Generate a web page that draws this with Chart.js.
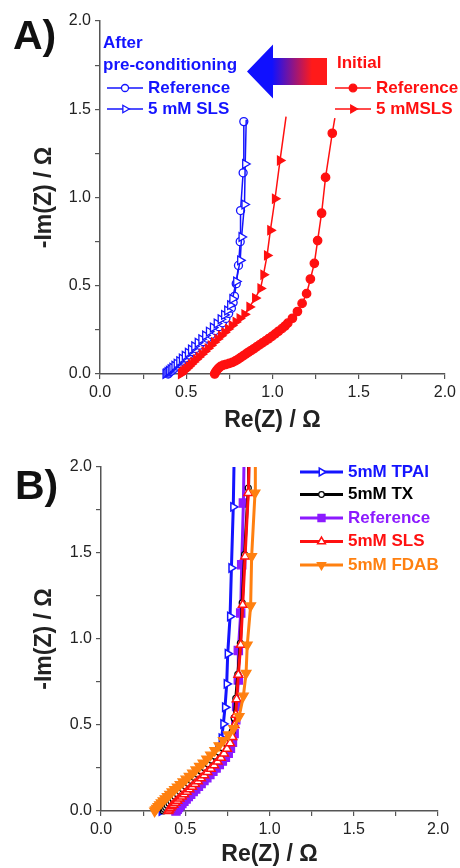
<!DOCTYPE html>
<html>
<head>
<meta charset="utf-8">
<script src="https://cdn.jsdelivr.net/npm/chart.js@4.4.1/dist/chart.umd.min.js"></script>
<style>
    html, body { margin: 0; padding: 0; background: #fff; }
    #wrap { position: relative; width: 460px; height: 868px; overflow: hidden; }
    canvas { position: absolute; left: 0; }
    #chartA { top: 0; }
    #chartB { top: 434px; }
</style>
</head>
<body>
<div id="wrap">
    <canvas id="chartA" width="460" height="434"></canvas>
    <canvas id="chartB" width="460" height="434"></canvas>
</div>
<script>
const FONT = 'Arial, "Liberation Sans", sans-serif';
const AXIS = '#555';

// labelled ticks on both axes, minor ticks every 0.25
const majorTicks = [0.0, 0.5, 1.0, 1.5, 2.0];

// ---- panel A : Re(Z), -Im(Z) in ohm ----
const aAfterRefRe = [0.395, 0.40, 0.41, 0.42, 0.432, 0.445, 0.46, 0.477, 0.495, 0.515, 0.535, 0.555, 0.577, 0.6, 0.622, 0.645, 0.668, 0.69, 0.71, 0.73, 0.746, 0.762, 0.772, 0.78, 0.79, 0.803, 0.813, 0.815, 0.83, 0.834];
const aAfterRefIm = [0, 0.006, 0.014, 0.022, 0.033, 0.045, 0.058, 0.073, 0.09, 0.108, 0.126, 0.144, 0.163, 0.183, 0.203, 0.224, 0.246, 0.268, 0.29, 0.315, 0.343, 0.373, 0.405, 0.44, 0.512, 0.615, 0.75, 0.926, 1.14, 1.43];

const aAfterSlsRe = [0.38, 0.385, 0.392, 0.40, 0.41, 0.42, 0.432, 0.445, 0.46, 0.475, 0.492, 0.51, 0.528, 0.547, 0.567, 0.588, 0.61, 0.632, 0.655, 0.677, 0.70, 0.72, 0.738, 0.755, 0.768, 0.79, 0.813, 0.821, 0.838, 0.842, 0.848];
const aAfterSlsIm = [0, 0.005, 0.011, 0.018, 0.027, 0.036, 0.047, 0.059, 0.073, 0.088, 0.104, 0.121, 0.139, 0.157, 0.177, 0.197, 0.218, 0.24, 0.263, 0.286, 0.31, 0.335, 0.36, 0.39, 0.425, 0.524, 0.644, 0.776, 0.96, 1.19, 1.44];

const aInitRefRe = [0.665, 0.67, 0.678, 0.688, 0.70, 0.715, 0.732, 0.75, 0.768, 0.785, 0.80, 0.815, 0.83, 0.845, 0.86, 0.876, 0.892, 0.908, 0.925, 0.942, 0.96, 0.978, 0.997, 1.016, 1.035, 1.055, 1.073, 1.089, 1.116, 1.145, 1.172, 1.198, 1.22, 1.243, 1.262, 1.285, 1.308, 1.347, 1.362];
const aInitRefIm = [0, 0.01, 0.022, 0.033, 0.043, 0.05, 0.055, 0.06, 0.066, 0.074, 0.083, 0.093, 0.103, 0.113, 0.123, 0.133, 0.143, 0.154, 0.165, 0.176, 0.188, 0.2, 0.213, 0.227, 0.242, 0.257, 0.272, 0.288, 0.316, 0.354, 0.40, 0.455, 0.538, 0.627, 0.756, 0.911, 1.114, 1.364, 1.45];

const aInitSlsRe = [0.47, 0.475, 0.483, 0.492, 0.503, 0.515, 0.528, 0.542, 0.557, 0.573, 0.59, 0.607, 0.625, 0.643, 0.662, 0.682, 0.702, 0.722, 0.743, 0.765, 0.787, 0.81, 0.838, 0.867, 0.9, 0.931, 0.948, 0.969, 0.988, 1.015, 1.044, 1.079];
const aInitSlsIm = [0, 0.006, 0.014, 0.022, 0.032, 0.043, 0.055, 0.068, 0.082, 0.097, 0.112, 0.128, 0.145, 0.162, 0.18, 0.198, 0.217, 0.236, 0.255, 0.275, 0.295, 0.315, 0.338, 0.38, 0.43, 0.485, 0.5625, 0.672, 0.814, 0.993, 1.21, 1.458];

// ---- panel B ----
const bTpaiRe = [0.36, 0.37, 0.382, 0.395, 0.409, 0.424, 0.44, 0.457, 0.475, 0.494, 0.513, 0.533, 0.553, 0.574, 0.595, 0.617, 0.638, 0.66, 0.68, 0.696, 0.716, 0.726, 0.736, 0.746, 0.752, 0.766, 0.774, 0.785, 0.79];
const bTpaiIm = [0, 0.012, 0.025, 0.039, 0.053, 0.068, 0.083, 0.099, 0.115, 0.132, 0.15, 0.168, 0.187, 0.207, 0.228, 0.25, 0.273, 0.297, 0.322, 0.365, 0.423, 0.506, 0.603, 0.739, 0.914, 1.131, 1.413, 1.768, 2.05];

const bTxRe = [0.37, 0.376, 0.384, 0.393, 0.403, 0.414, 0.426, 0.439, 0.453, 0.468, 0.484, 0.5, 0.517, 0.535, 0.553, 0.572, 0.592, 0.612, 0.633, 0.654, 0.676, 0.698, 0.72, 0.742, 0.762, 0.778, 0.79, 0.8, 0.812, 0.827, 0.838, 0.852, 0.874, 0.876];
const bTxIm = [0, 0.01, 0.021, 0.033, 0.045, 0.058, 0.071, 0.085, 0.099, 0.114, 0.129, 0.145, 0.161, 0.178, 0.196, 0.214, 0.233, 0.253, 0.274, 0.296, 0.319, 0.343, 0.368, 0.395, 0.425, 0.46, 0.54, 0.655, 0.795, 0.975, 1.21, 1.49, 1.878, 2.05];

const bRefRe = [0.445, 0.452, 0.46, 0.47, 0.48, 0.492, 0.505, 0.518, 0.532, 0.547, 0.562, 0.578, 0.594, 0.611, 0.628, 0.646, 0.664, 0.683, 0.702, 0.72, 0.738, 0.755, 0.768, 0.78, 0.79, 0.8, 0.805, 0.815, 0.815, 0.829, 0.835, 0.845, 0.849];
const bRefIm = [0, 0.01, 0.02, 0.032, 0.044, 0.057, 0.07, 0.084, 0.098, 0.113, 0.128, 0.144, 0.16, 0.177, 0.194, 0.212, 0.231, 0.25, 0.27, 0.29, 0.312, 0.336, 0.365, 0.40, 0.45, 0.53, 0.607, 0.762, 0.933, 1.151, 1.432, 1.79, 2.05];

const bSlsRe = [0.40, 0.405, 0.412, 0.42, 0.43, 0.441, 0.453, 0.466, 0.48, 0.494, 0.509, 0.525, 0.541, 0.558, 0.576, 0.594, 0.613, 0.632, 0.652, 0.672, 0.692, 0.712, 0.73, 0.748, 0.766, 0.78, 0.793, 0.8, 0.805, 0.815, 0.829, 0.841, 0.855, 0.874, 0.88];
const bSlsIm = [0, 0.008, 0.018, 0.027, 0.037, 0.048, 0.06, 0.072, 0.085, 0.098, 0.112, 0.126, 0.141, 0.157, 0.173, 0.19, 0.208, 0.227, 0.246, 0.266, 0.288, 0.31, 0.335, 0.362, 0.394, 0.43, 0.5, 0.56, 0.65, 0.792, 0.966, 1.199, 1.48, 1.849, 2.05];

const bFdabRe = [0.318, 0.323, 0.33, 0.338, 0.347, 0.357, 0.368, 0.38, 0.393, 0.407, 0.421, 0.436, 0.452, 0.469, 0.486, 0.504, 0.523, 0.543, 0.563, 0.584, 0.605, 0.627, 0.65, 0.675, 0.7, 0.726, 0.756, 0.787, 0.82, 0.845, 0.861, 0.868, 0.888, 0.894, 0.914, 0.916];
const bFdabIm = [0, 0.008, 0.017, 0.027, 0.037, 0.048, 0.06, 0.072, 0.085, 0.098, 0.112, 0.126, 0.14, 0.155, 0.17, 0.186, 0.203, 0.221, 0.24, 0.26, 0.28, 0.302, 0.326, 0.352, 0.38, 0.41, 0.443, 0.48, 0.55, 0.669, 0.801, 0.966, 1.193, 1.48, 1.849, 2.05];

function series(label, re, im, o) {
    return {
        label: label,
        data: re.map((x, i) => ({ x: x, y: im[i] })),
        showLine: true,
        borderColor: o.color,
        borderWidth: o.lw,
        pointStyle: o.style,
        rotation: o.rot || 0,
        pointRadius: o.hideLast ? (c => c.dataIndex === re.length - 1 ? 0 : o.r) : o.r,
        legendR: o.lr || o.r,
        pointBackgroundColor: o.fill,
        pointBorderColor: o.color,
        pointBorderWidth: o.pbw || 1.3,
        order: o.order || 0,
        clip: { left: false, right: false, top: 0, bottom: false },
    };
}

function tickCb(v) {
    return majorTicks.some(m => Math.abs(m - v) < 1e-6) ? v.toFixed(1) : '';
}

function axis(title, isX, size) {
    return {
        type: 'linear',
        min: 0,
        max: 2,
        border: { display: true, color: AXIS, width: 1.5 },
        grid: { display: true, drawOnChartArea: false, drawTicks: true, tickLength: 5, color: AXIS, lineWidth: 1.2 },
        ticks: {
            stepSize: 0.25, autoSkip: false, maxRotation: 0, padding: 4,
            color: '#222', font: { family: FONT, size: 16 },
            callback: tickCb,
        },
        title: {
            display: true,
            text: title,
            color: '#222',
            font: { family: FONT, size: 23, weight: 'bold' },
            padding: isX ? { top: 0, bottom: 0 } : { top: 31, bottom: 0 },
        },
        afterFit: s => { if (isX) s.height = size; else s.width = size; },
    };
}

function drawArrow(ctx, a) {
    const g = ctx.createLinearGradient(a.g0, 0, a.g1, 0);
    g.addColorStop(0, '#1010ff');
    g.addColorStop(1, '#ff1a1a');
    ctx.fillStyle = g;
    ctx.beginPath();
    ctx.moveTo(a.tip, a.mid);
    ctx.lineTo(a.neck, a.mid - a.head);
    ctx.lineTo(a.neck, a.mid - a.body);
    ctx.lineTo(a.tail, a.mid - a.body);
    ctx.lineTo(a.tail, a.mid + a.body);
    ctx.lineTo(a.neck, a.mid + a.body);
    ctx.lineTo(a.neck, a.mid + a.head);
    ctx.closePath();
    ctx.fill();
}

const panelDecor = {
    id: 'panelDecor',
    afterDraw(chart, args, opts) {
        const ctx = chart.ctx;
        ctx.save();
        ctx.textBaseline = 'alphabetic';
        ctx.fillStyle = '#111';
        ctx.font = 'bold 41px ' + FONT;
        ctx.fillText(opts.tag, opts.tagX, opts.tagY);

        if (opts.arrow) drawArrow(ctx, opts.arrow);

        ctx.font = 'bold 17px ' + FONT;
        ctx.textBaseline = 'middle';
        (opts.texts || []).forEach(t => {
            ctx.fillStyle = t.color;
            ctx.fillText(t.text, t.x, t.y);
        });

        (opts.rows || []).forEach(r => {
            const ds = chart.data.datasets[r.ds];
            ctx.strokeStyle = ds.borderColor;
            ctx.lineWidth = ds.borderWidth;
            ctx.beginPath();
            ctx.moveTo(r.x, r.y);
            ctx.lineTo(r.x + r.len, r.y);
            ctx.stroke();
            ctx.fillStyle = ds.pointBackgroundColor;
            ctx.strokeStyle = ds.pointBorderColor;
            ctx.lineWidth = ds.pointBorderWidth;
            Chart.helpers.drawPoint(ctx, {
                pointStyle: ds.pointStyle, rotation: ds.rotation,
                radius: ds.legendR, borderWidth: ds.pointBorderWidth
            }, r.x + r.len / 2, r.y);
            ctx.fillStyle = ds.borderColor;
            ctx.font = 'bold 17px ' + FONT;
            ctx.fillText(ds.label, r.x + r.len + 5, r.y);
        });
        ctx.restore();
    }
};

const BLUE = '#1414ff';
const RED = '#ff1010';
const PURPLE = '#8c1aff';
const ORANGE = '#ff8010';

function makeChart(id, datasets, pad, ySize, xSize, decor) {
    return new Chart(document.getElementById(id), {
        type: 'scatter',
        data: { datasets: datasets },
        plugins: [panelDecor],
        options: {
            responsive: false,
            animation: false,
            events: [],
            layout: { padding: pad },
            scales: {
                x: axis('Re(Z) / Ω', true, xSize),
                y: axis('-Im(Z) / Ω', false, ySize),
            },
            plugins: {
                legend: { display: false },
                tooltip: { enabled: false },
                panelDecor: decor,
            },
        },
    });
}

makeChart('chartA', [
    series('Reference', aAfterRefRe, aAfterRefIm, { color: BLUE, lw: 1.5, style: 'circle', r: 4, lr: 3.5, fill: '#fff', order: 1 }),
    series('5 mM SLS', aAfterSlsRe, aAfterSlsIm, { color: BLUE, lw: 1.5, style: 'triangle', rot: 90, r: 5, lr: 4.3, fill: '#fff', hideLast: true, order: 0 }),
    series('Reference', aInitRefRe, aInitRefIm, { color: RED, lw: 1.5, style: 'circle', r: 4.2, lr: 3.8, fill: RED, hideLast: true }),
    series('5 mMSLS', aInitSlsRe, aInitSlsIm, { color: RED, lw: 1.5, style: 'triangle', rot: 90, r: 5, lr: 4.5, fill: RED, hideLast: true }),
], { left: 0, right: 14, top: 21, bottom: 0 }, 100, 60, {
    tag: 'A)', tagX: 13, tagY: 49,
    arrow: { tip: 247, neck: 273, tail: 327, mid: 71.5, head: 27, body: 13.5, g0: 272, g1: 312 },
    texts: [
        { text: 'After', x: 103, y: 43, color: BLUE },
        { text: 'pre-conditioning', x: 103, y: 65, color: BLUE },
        { text: 'Initial', x: 337, y: 63, color: RED },
    ],
    rows: [
        { ds: 0, x: 107, y: 88, len: 36 },
        { ds: 1, x: 107, y: 109, len: 36 },
        { ds: 2, x: 335, y: 88, len: 36 },
        { ds: 3, x: 335, y: 109, len: 36 },
    ],
});

makeChart('chartB', [
    series('5mM TPAI', bTpaiRe, bTpaiIm, { color: BLUE, lw: 3, style: 'triangle', rot: 90, r: 4.8, lr: 4.5, fill: '#fff', pbw: 1.5, hideLast: true, order: 4 }),
    series('5mM TX', bTxRe, bTxIm, { color: '#000', lw: 3, style: 'circle', r: 3, lr: 2.8, fill: '#fff', pbw: 1.2, hideLast: true, order: 2 }),
    series('Reference', bRefRe, bRefIm, { color: PURPLE, lw: 3, style: 'rect', r: 5.8, lr: 5, fill: PURPLE, hideLast: true, order: 3 }),
    series('5mM SLS', bSlsRe, bSlsIm, { color: RED, lw: 3, style: 'triangle', r: 5, lr: 4.5, fill: '#fff', pbw: 1.5, hideLast: true, order: 1 }),
    series('5mM FDAB', bFdabRe, bFdabIm, { color: ORANGE, lw: 3, style: 'triangle', rot: 180, r: 5.6, lr: 4.8, fill: ORANGE, hideLast: true, order: 0 }),
], { left: 0, right: 22, top: 33, bottom: 0 }, 101, 57, {
    tag: 'B)', tagX: 15, tagY: 65,
    rows: [
        { ds: 0, x: 300, y: 38, len: 43 },
        { ds: 1, x: 300, y: 60.5, len: 43 },
        { ds: 2, x: 300, y: 84, len: 43 },
        { ds: 3, x: 300, y: 107.5, len: 43 },
        { ds: 4, x: 300, y: 131, len: 43 },
    ],
});
</script>
</body>
</html>
